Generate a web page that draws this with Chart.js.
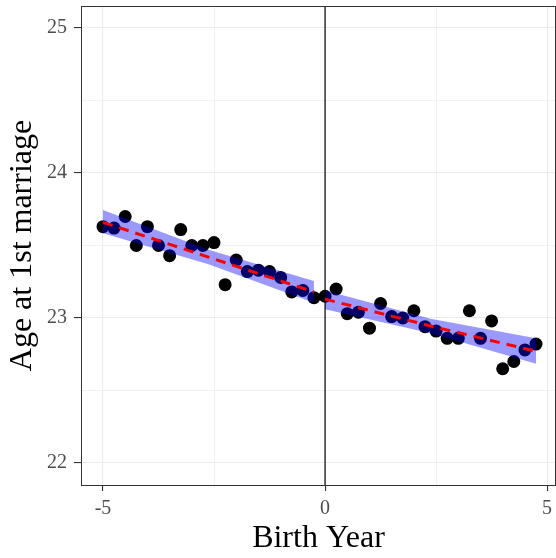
<!DOCTYPE html>
<html>
<head>
<meta charset="utf-8">
<script src="https://cdn.jsdelivr.net/npm/chart.js@4/dist/chart.umd.min.js"></script>
<style>
  body { margin: 0; background: #fff; }
  #wrap { width: 556px; height: 558px; }
</style>
</head>
<body>
<div id="wrap"><canvas id="chart" width="556" height="558"></canvas></div>
<script>
// birth year (centred on the cutoff) vs mean age at first marriage
const birthYear = [-5, -4.75, -4.5, -4.25, -4, -3.75, -3.5, -3.25, -3, -2.75,
  -2.5, -2.25, -2, -1.75, -1.5, -1.25, -1, -0.75, -0.5, -0.25,
  0, 0.25, 0.5, 0.75, 1, 1.25, 1.5, 1.75, 2, 2.25,
  2.5, 2.75, 3, 3.25, 3.5, 3.75, 4, 4.25, 4.5, 4.75];
const ageAtMarriage = [23.63, 23.62, 23.70, 23.50, 23.63, 23.50, 23.43, 23.61, 23.50, 23.50,
  23.52, 23.23, 23.40, 23.32, 23.33, 23.32, 23.28, 23.18, 23.19, 23.14,
  23.15, 23.20, 23.03, 23.04, 22.93, 23.10, 23.01, 23.00, 23.05, 22.94,
  22.91, 22.86, 22.86, 23.05, 22.86, 22.98, 22.65, 22.70, 22.78, 22.82];

// linear fits either side of the cutoff, with confidence band
const fitLeftX = [-5, -2.625, -0.25];
const fitLeftY = [23.66, 23.42, 23.18];
const bandLeftHi = [23.745, 23.47, 23.255];
const bandLeftLo = [23.585, 23.37, 23.105];

const fitRightX = [0, 2.375, 4.75];
const fitRightY = [23.13, 22.945, 22.77];
const bandRightHi = [23.19, 22.995, 22.86];
const bandRightLo = [23.06, 22.895, 22.685];

const xTicks = [-5, -2.5, 0, 2.5, 5];
const yTicks = [22, 22.5, 23, 23.5, 24, 24.5, 25];
const xRange = [-5.495, 5.2];
const yRange = [21.848, 25.152];
const cutoff = 0;

const pts = (xs, ys) => xs.map((x, i) => ({x: x, y: ys[i]}));

const bandStyle = {
  type: 'line', pointRadius: 0, borderWidth: 0,
  backgroundColor: 'rgba(0,0,255,0.4)', order: 2
};
const fitStyle = {
  type: 'line', pointRadius: 0, borderWidth: 3,
  borderColor: '#ff0000', borderDash: [10, 7], fill: false, order: 0
};

const panelBorder = {
  id: 'panelBorder',
  afterDraw(chart) {
    const {ctx, chartArea: a} = chart;
    ctx.save();
    ctx.strokeStyle = '#333333';
    ctx.lineWidth = 1;
    ctx.strokeRect(a.left + 0.5, a.top + 0.5, a.right - a.left - 1, a.bottom - a.top);
    ctx.restore();
  }
};

const serif = '"Liberation Serif", "DejaVu Serif", serif';

new Chart(document.getElementById('chart'), {
  type: 'scatter',
  data: {
    datasets: [
      Object.assign({data: pts(fitLeftX, fitLeftY)}, fitStyle),
      Object.assign({data: pts(fitRightX, fitRightY)}, fitStyle),
      {
        type: 'line', data: pts([cutoff, cutoff], yRange),
        borderColor: '#000', borderWidth: 1.2, pointRadius: 0, fill: false, order: 1
      },
      Object.assign({data: pts(fitLeftX, bandLeftHi), fill: '+1'}, bandStyle),
      Object.assign({data: pts(fitLeftX, bandLeftLo), fill: false}, bandStyle),
      Object.assign({data: pts(fitRightX, bandRightHi), fill: '+1'}, bandStyle),
      Object.assign({data: pts(fitRightX, bandRightLo), fill: false}, bandStyle),
      {
        data: pts(birthYear, ageAtMarriage),
        backgroundColor: '#000', borderWidth: 0, pointRadius: 6.5, order: 3
      }
    ]
  },
  options: {
    responsive: false,
    animation: false,
    devicePixelRatio: 1,
    layout: {autoPadding: false, padding: {top: 6, right: 0, left: 0, bottom: 0}},
    plugins: {legend: {display: false}, tooltip: {enabled: false}},
    scales: {
      x: {
        type: 'linear', min: xRange[0], max: xRange[1],
        afterFit: s => { s.height = 73; s.paddingLeft = 0; s.paddingRight = 0; },
        afterBuildTicks: s => { s.ticks = xTicks.map(v => ({value: v})); },
        border: {display: false},
        grid: {
          color: '#ebebeb',
          lineWidth: c => (c.tick && c.tick.value % 5 === 0) ? 1.1 : 0.7,
          tickColor: c => (c.tick && c.tick.value % 5 === 0) ? '#333333' : 'rgba(0,0,0,0)',
          tickLength: 6, tickWidth: 1.1
        },
        ticks: {
          padding: 6, color: '#4d4d4d', maxRotation: 0,
          font: {family: serif, size: 20},
          callback: v => v % 5 === 0 ? String(v) : ''
        },
        title: {
          display: true, text: 'Birth Year', color: '#000',
          font: {family: serif, size: 32, lineHeight: 1.2},
          padding: {top: 0, bottom: 0}
        }
      },
      y: {
        type: 'linear', min: yRange[0], max: yRange[1],
        afterFit: s => { s.width = 81; s.paddingTop = 0; s.paddingBottom = 0; },
        afterBuildTicks: s => { s.ticks = yTicks.map(v => ({value: v})); },
        border: {display: false},
        grid: {
          color: '#ebebeb',
          lineWidth: c => (c.tick && c.tick.value % 1 === 0) ? 1.1 : 0.7,
          tickColor: c => (c.tick && c.tick.value % 1 === 0) ? '#333333' : 'rgba(0,0,0,0)',
          tickLength: 7, tickWidth: 1.1
        },
        ticks: {
          padding: 7, color: '#4d4d4d',
          font: {family: serif, size: 20},
          callback: v => v % 1 === 0 ? String(v) : ''
        },
        title: {
          display: true, text: 'Age at 1st marriage', color: '#000',
          font: {family: serif, size: 32, lineHeight: 1.2},
          padding: {top: 3, bottom: 0}
        }
      }
    }
  },
  plugins: [panelBorder]
});
</script>
</body>
</html>
